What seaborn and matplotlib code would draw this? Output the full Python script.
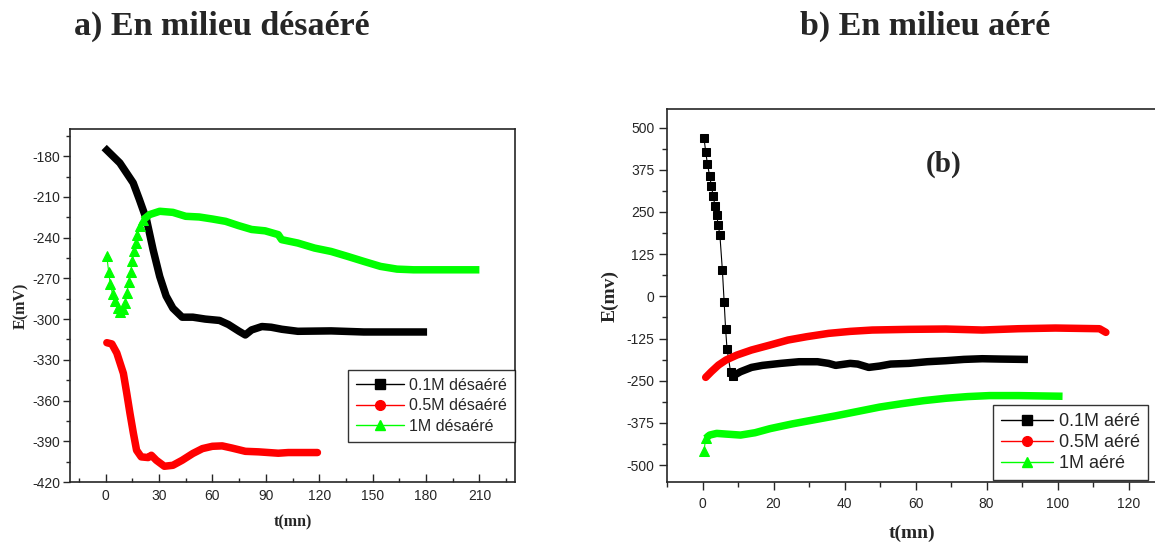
import matplotlib
matplotlib.use("Agg")
import matplotlib.pyplot as plt
from matplotlib.lines import Line2D
from matplotlib.ticker import MultipleLocator
import seaborn as sns

# ---------------- data: panel a) deaerated ----------------
t_a01 = [0.7, 8, 15.5, 19, 23, 26.7, 30.4, 34, 37.8, 43, 49, 56, 64, 69, 75, 78.5,
         82, 87.8, 93, 99, 108, 126.7, 145, 178.5]
e_a01 = [-175.6, -185, -199.7, -212, -226.8, -249, -268.6, -283, -292, -298.6, -298.6,
         -300, -301, -304, -309, -311.7, -308, -305.5, -306, -307.5, -309, -308.7,
         -309.5, -309.5]

t_a05 = [0.7, 3.5, 6.3, 10, 11.9, 13.7, 15.6, 17.4, 20, 23.9, 25.7, 28.5, 33, 37.8, 43,
         49, 54.4, 60, 65.5, 71, 78.5, 86, 97, 102.6, 111.8, 119]
e_a05 = [-317.4, -318.3, -325, -340, -354.8, -369.5, -384, -396.6, -401.5, -402, -400.3,
         -404, -408.4, -407.7, -404, -399, -395.4, -393.7, -393.4, -395, -397.4, -397.8,
         -398.8, -398.3, -398.3, -398.3]

t_a1 = [0.7, 1.7, 2.6, 3.9, 5.4, 6.7, 8.1, 9.6, 10.9, 11.9, 13, 14, 15, 15.9, 16.9, 17.8,
        19.3, 21, 24.8, 30.4, 37.8, 45, 52.6, 60, 67.4, 74.8, 82, 89.6, 97, 98.9, 108,
        117.4, 126.7, 135.9, 145, 154.4, 163.7, 173, 210]
e_a1 = [-253.8, -265, -274, -281.4, -287, -292, -294.5, -292.7, -287.8, -281, -273, -265,
        -257.5, -250, -244, -237.8, -231.7, -227, -223, -220.6, -221.4, -224.3, -224.8,
        -226.3, -228, -231.2, -234, -235, -237.8, -241.5, -244, -247.7, -250.2, -253.8,
        -257.5, -261.2, -263.2, -263.7, -263.7]
n_sparse_a1 = 18

# ---------------- data: panel b) aerated ----------------
t_b01 = [0.4, 0.9, 1.4, 2.0, 2.5, 3.0, 3.5, 4.0, 4.4, 4.9, 5.6, 6.1, 6.5, 6.9, 7.9, 8.7,
         10.7, 13.8, 16.9, 22, 27.2, 32.4, 35.5, 37.5, 41.6, 43.7, 46.8, 49.9, 53, 58.1,
         63.3, 68.5, 73.6, 78.8, 83.9, 90.6]
e_b01 = [470.4, 427.9, 391.3, 357.7, 327, 297.4, 268.8, 241, 212.5, 180.8, 77, -17.8,
         -95.8, -155, -223.3, -235.2, -223.3, -210.5, -204.5, -198.6, -193.7, -193.7,
         -198.6, -204.5, -198.6, -200.6, -210.5, -206.5, -200.6, -198.6, -193.7, -190.7,
         -186.8, -184.8, -185.8, -186.8]
n_sparse_b01 = 16

t_b05 = [0.9, 2.5, 4.5, 6.6, 9.7, 13.8, 19, 24.1, 29.3, 35.5, 41.6, 47.8, 58.1, 68.5,
         78.8, 89, 99.4, 111.8, 113.6]
e_b05 = [-240, -223, -203.6, -188.7, -173.9, -159, -144.3, -129.4, -119.6, -109.7, -103.8,
         -99.8, -97.8, -96.8, -99.8, -95.9, -93.9, -95.9, -106.7]

t_b1 = [0.4, 0.9, 2.0, 4.0, 6.6, 10.7, 14.8, 19, 25.2, 31.3, 37.5, 43.7, 49.9, 56.1, 62.3,
        68.5, 74.6, 80.8, 89, 101.4]
e_b1 = [-458.5, -421, -411, -406, -408, -411, -404, -392, -378, -366, -354, -341, -328,
        -318, -309, -302, -297, -294, -294, -296]
n_sparse_b1 = 2

labels_a = ["0.1M désaéré", "0.5M désaéré", "1M désaéré"]
labels_b = ["0.1M aéré", "0.5M aéré", "1M aéré"]
titles = ["a) En milieu désaéré", "b) En milieu aéré"]

BLACK, RED, GREEN = "#000000", "#ff0000", "#00ff00"

sns.set_style("ticks")
plt.rcParams["font.family"] = ["Liberation Sans", "DejaVu Sans"]
plt.rcParams["axes.unicode_minus"] = False

fig = plt.figure(figsize=(11.55, 5.44), dpi=100)
W, H = 1155, 544
axA = fig.add_axes([70 / W, (H - 482) / H, (515 - 70) / W, (482 - 129) / H])
axB = fig.add_axes([667 / W, (H - 482) / H, (1157 - 667) / W, (482 - 109) / H])

SERIF = ["Liberation Serif", "DejaVu Serif"]


def dense(ax, t, e, color, cap):
    sns.lineplot(x=t, y=e, ax=ax, color=color, linewidth=5.4, sort=False,
                 estimator=None, solid_capstyle=cap, solid_joinstyle="round")


def sparse(ax, t, e, color, marker, ms):
    sns.lineplot(x=t, y=e, ax=ax, color=color, linewidth=0.8, sort=False,
                 estimator=None, marker=marker, markersize=ms,
                 markeredgecolor=color, markerfacecolor=color)


# panel a
dense(axA, t_a01, e_a01, BLACK, "projecting")
dense(axA, t_a05, e_a05, RED, "round")
sparse(axA, t_a1[:n_sparse_a1], e_a1[:n_sparse_a1], GREEN, "^", 6.5)
dense(axA, t_a1[n_sparse_a1 - 1:], e_a1[n_sparse_a1 - 1:], GREEN, "butt")

# panel b
sparse(axB, t_b01[:n_sparse_b01], e_b01[:n_sparse_b01], BLACK, "s", 5.5)
dense(axB, t_b01[n_sparse_b01 - 1:], e_b01[n_sparse_b01 - 1:], BLACK, "projecting")
dense(axB, t_b05, e_b05, RED, "round")
sparse(axB, t_b1[:n_sparse_b1], e_b1[:n_sparse_b1], GREEN, "^", 6.5)
dense(axB, t_b1[n_sparse_b1 - 1:], e_b1[n_sparse_b1 - 1:], GREEN, "butt")

# axes a
axA.set_xlim(-20, 230)
axA.set_ylim(-420, -160)
axA.xaxis.set_major_locator(MultipleLocator(30))
axA.xaxis.set_minor_locator(MultipleLocator(15))
axA.yaxis.set_major_locator(MultipleLocator(30))
axA.yaxis.set_minor_locator(MultipleLocator(15))
axA.tick_params(axis="y", which="major", direction="out", length=5, width=1, labelsize=10, pad=2)
axA.tick_params(axis="y", which="minor", direction="out", length=3, width=1)
axA.tick_params(axis="x", which="major", direction="in", length=6, width=1, labelsize=10, pad=5)
axA.tick_params(axis="x", which="minor", direction="in", length=3, width=1)
axA.set_xlabel("t(mn)", family=SERIF, fontweight="bold", fontsize=11.5, labelpad=8)
axA.set_ylabel("E(mV)", family=SERIF, fontweight="bold", fontsize=11.5, labelpad=2)
for s in axA.spines.values():
    s.set_linewidth(1.2)
    s.set_visible(True)

# axes b
axB.set_xlim(-10, 128)
axB.set_ylim(-550, 555)
axB.xaxis.set_major_locator(MultipleLocator(20))
axB.xaxis.set_minor_locator(MultipleLocator(10))
axB.yaxis.set_major_locator(MultipleLocator(125))
axB.yaxis.set_minor_locator(MultipleLocator(62.5))
axB.tick_params(axis="both", which="major", direction="out", length=6, width=1, labelsize=10, pad=3)
axB.tick_params(axis="both", which="minor", direction="out", length=3.5, width=1)
axB.tick_params(axis="x", which="major", pad=5)
axB.set_xlabel("t(mn)", family=SERIF, fontweight="bold", fontsize=14, labelpad=10)
axB.set_ylabel("E(mv)", family=SERIF, fontweight="bold", fontsize=14, labelpad=6)
for s in axB.spines.values():
    s.set_linewidth(1.2)
    s.set_visible(True)
axB.text(68, 390, "(b)", family=SERIF, fontweight="bold", fontsize=21,
         ha="center", va="center")

# legends
def handles(marker_list):
    cols = [BLACK, RED, GREEN]
    return [Line2D([0], [0], color=c, lw=1, marker=m, markersize=7,
                   markeredgecolor=c, markerfacecolor=c)
            for c, m in zip(cols, marker_list)]

legA = axA.legend(handles(["s", "o", "^"]), labels_a, loc="lower right",
                  bbox_to_anchor=(515 / W, (H - 442) / H), bbox_transform=fig.transFigure,
                  fontsize=11.5, frameon=True, fancybox=False, handlelength=3.0,
                  handletextpad=0.3, labelspacing=0.35, borderpad=0.5, borderaxespad=0)
legA.get_frame().set_edgecolor("black")
legA.get_frame().set_linewidth(1.0)

legB = axB.legend(handles(["s", "o", "^"]), labels_b, loc="lower right",
                  bbox_to_anchor=(1148 / W, (H - 480) / H), bbox_transform=fig.transFigure,
                  fontsize=13, frameon=True, fancybox=False, handlelength=2.9,
                  handletextpad=0.3, labelspacing=0.22, borderpad=0.45, borderaxespad=0)
legB.get_frame().set_edgecolor("black")
legB.get_frame().set_linewidth(1.0)

fig.text(222 / W, 1 - 26 / H, titles[0], family=SERIF, fontweight="bold", fontsize=24.5,
         ha="center", va="center")
fig.text(925 / W, 1 - 26 / H, titles[1], family=SERIF, fontweight="bold", fontsize=24.5,
         ha="center", va="center")

fig.savefig("out.png", dpi=100)
